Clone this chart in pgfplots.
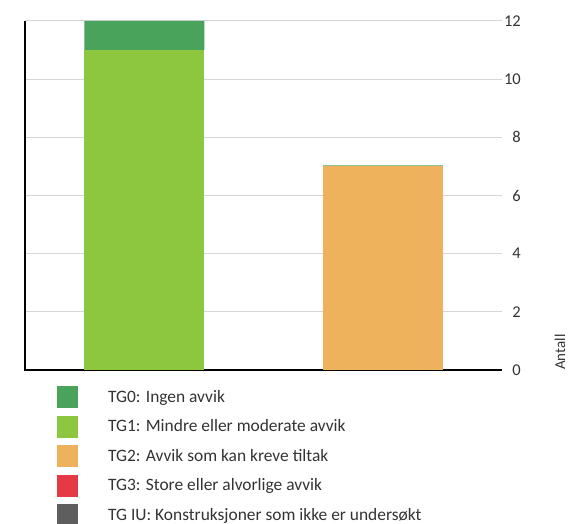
\documentclass[border=0pt]{standalone}
\usepackage{pgfplots}
\pgfplotsset{compat=1.18}
\usepackage{fontspec}
\setmainfont{Carlito}

\definecolor{tgnull}{HTML}{4AA35A}
\definecolor{tgen}{HTML}{8DC63F}
\definecolor{tgto}{HTML}{EFB25C}
\definecolor{tgtre}{HTML}{E63946}
\definecolor{tgiu}{HTML}{5E5E5E}
\definecolor{gridgray}{HTML}{D6D6D6}
\definecolor{labelgray}{HTML}{333333}

\begin{document}
\begin{tikzpicture}
\begin{axis}[
    scale only axis,
    width=477bp, height=349bp,
    ybar stacked, bar width=120bp,
    xmin=-0.5, xmax=1.5, ymin=0, ymax=12,
    xtick=\empty, ytick={0,2,...,12},
    yticklabel pos=right,
    ymajorgrids, grid style={color=gridgray, line width=1bp},
    axis line style={draw=none},
    major tick length=0pt,
    /pgf/number format/assume math mode=true,
    ticklabel style={font=\fontsize{16.5bp}{19bp}\selectfont, text=labelgray},
    yticklabel style={anchor=east, inner sep=0pt, xshift=19bp},
    reverse legend,
    legend cell align=left,
    legend style={at={(0,0)}, anchor=north west, xshift=32bp, yshift=-16bp,
        draw=none, fill=none, inner sep=0pt,
        font=\fontsize{17.4bp}{20bp}\selectfont, text=labelgray,
        nodes={inner sep=0pt}, row sep=7.5bp,
        /tikz/every odd column/.append style={column sep=30bp}},
    legend image code/.code={\fill[#1] (0bp,-11bp) rectangle (21bp,11bp);},
    clip=false,
]
% stacked from the bottom: TG IU, TG3, TG2, TG1, TG0
\addplot[fill=tgiu, draw=none] coordinates {(0,0) (1,0)};
\addlegendentry{TG IU: Konstruksjoner som ikke er undersøkt}
\addplot[fill=tgtre, draw=none] coordinates {(0,0) (1,0)};
\addlegendentry{TG3: Store eller alvorlige avvik}
\addplot[fill=tgto, draw=none] coordinates {(0,0) (1,7)};
\addlegendentry{TG2: Avvik som kan kreve tiltak}
\addplot[fill=tgen, draw=none] coordinates {(0,11) (1,0)};
\addlegendentry{TG1: Mindre eller moderate avvik}
\addplot[fill=tgnull, draw=none] coordinates {(0,1) (1,0.04)};
\addlegendentry{TG0: Ingen avvik}

\draw[black, line width=1.5bp] (rel axis cs:0,1) -- (rel axis cs:0,0) -- (rel axis cs:1,0);
\node[rotate=90, anchor=west, inner sep=0pt, text=labelgray,
      font=\fontsize{15bp}{18bp}\selectfont] at ([xshift=58bp]rel axis cs:1,0) {Antall};
\coordinate (sw) at (rel axis cs:0,0);
\end{axis}
\pgfresetboundingbox
\path (sw) ++(-25bp,-154bp) rectangle ++(568bp,524bp);
\end{tikzpicture}
\end{document}
